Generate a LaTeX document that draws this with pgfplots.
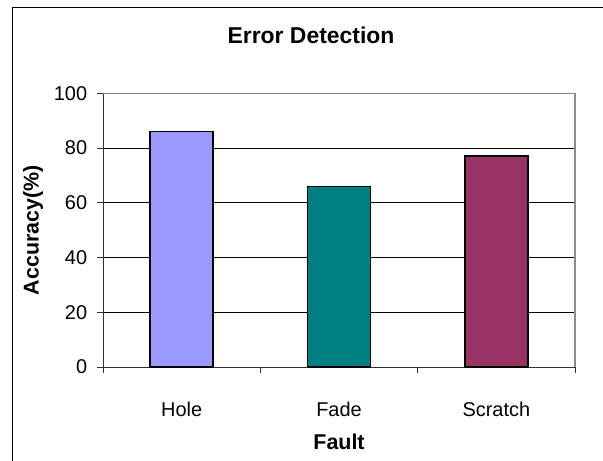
\documentclass[border=0pt]{standalone}
\usepackage{pgfplots}
\pgfplotsset{compat=1.18}
\usepackage{fontspec}
\setmainfont{Liberation Sans}
\definecolor{cHole}{HTML}{9999FF}
\definecolor{cFade}{HTML}{008080}
\definecolor{cScratch}{HTML}{993366}
\definecolor{axdark}{HTML}{303030}
\definecolor{axgray}{HTML}{8C8C8C}
\begin{document}
\begin{tikzpicture}
\begin{axis}[
  at={(103bp,94bp)}, anchor=south west,
  scale only axis, width=472bp, height=273.7bp,
  xmin=0.5, xmax=3.5, ymin=0, ymax=100,
  xtick={1,2,3}, xticklabels={Hole,Fade,Scratch},
  minor xtick={0.5,1.5,2.5,3.5},
  ytick={0,20,40,60,80,100},
  axis x line*=bottom, axis y line*=left,
  axis line style={-, draw=axdark, line width=1bp},
  tick align=outside,
  major tick length=6bp, minor tick length=6bp,
  major x tick style={draw=none},
  every tick/.style={axdark, line width=1bp},
  ymajorgrids, grid style={black, line width=0.8bp},
  /pgf/number format/assume math mode=true,
  ticklabel style={font=\fontsize{20}{24}\selectfont},
  xticklabel style={anchor=base, yshift=-43bp},
  yticklabel style={inner sep=0pt, xshift=-9.7bp},
  xlabel={\textbf{Fault}},
  ylabel={\textbf{Accuracy(\%)}},
  xlabel style={at={(axis description cs:0.5,-0.303)}, anchor=base, font=\fontsize{21.5}{25}\selectfont},
  ylabel style={at={(axis description cs:-0.1483,0.5)}, anchor=center, rotate=0, font=\fontsize{21.5}{25}\selectfont},
  bar width=0.4,
  clip=false,
]
\addplot[ybar, bar shift=0pt, fill=cHole, draw=black, line width=1.5bp] coordinates {(1,86)};
\addplot[ybar, bar shift=0pt, fill=cFade, draw=black, line width=1.5bp] coordinates {(2,66)};
\addplot[ybar, bar shift=0pt, fill=cScratch, draw=black, line width=1.5bp] coordinates {(3,77)};
\draw[axgray, line width=1.2bp] (rel axis cs:0,1) -- (rel axis cs:1,1) -- (rel axis cs:1,0);
\end{axis}
\node[anchor=base, font=\bfseries\fontsize{23}{27}\selectfont] at (311bp,417.7bp) {Error Detection};
\draw[black, line width=1bp] (12.3bp,-5bp) -- (12.3bp,453.7bp) -- (620bp,453.7bp);
\pgfresetboundingbox
\useasboundingbox (0,0) rectangle (603bp,461bp);
\end{tikzpicture}
\end{document}
